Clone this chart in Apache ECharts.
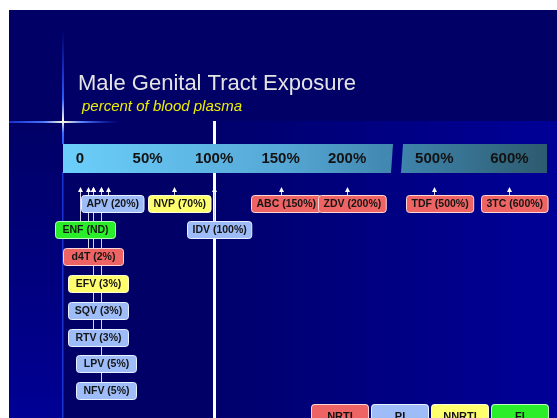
<!DOCTYPE html>
<html>
<head>
<meta charset="utf-8">
<title>Male Genital Tract Exposure</title>
<script src="https://cdn.jsdelivr.net/npm/echarts@6.0.0/dist/echarts.min.js"></script>
<style>
  html, body { margin: 0; padding: 0; background: #fff; }
  #chart { width: 557px; height: 418px; }
</style>
</head>
<body>
<div id="chart"></div>
<script>
// drug level in the male genital tract, as percent of blood plasma (null = not detected)
const drugs     = ['APV', 'NVP', 'ABC', 'ZDV', 'TDF', '3TC', 'ENF', 'IDV', 'd4T', 'EFV', 'SQV', 'RTV', 'LPV', 'NFV'];
const percent   = [20, 70, 150, 200, 500, 600, null, 100, 2, 3, 3, 3, 5, 5];
const drugClass = ['PI', 'NNRTI', 'NRTI', 'NRTI', 'NRTI', 'NRTI', 'FI', 'PI', 'NRTI', 'NNRTI', 'PI', 'PI', 'PI', 'PI'];
// which row of boxes each label hangs in
const level     = [0, 0, 0, 0, 0, 0, 1, 1, 2, 3, 4, 5, 6, 7];

const classes   = ['NRTI', 'PI', 'NNRTI', 'FI'];
const lowTicks  = [0, 50, 100, 150, 200];
const highTicks = [500, 600];
const plasmaLevel = 100;

const FONT = '"Liberation Sans", Arial, sans-serif';
const classStyle = {
  NRTI:  { fill: '#ee6464', border: '#ffd4d4' },
  PI:    { fill: '#9dbcf8', border: '#e8efff' },
  NNRTI: { fill: '#ffff6e', border: '#ffffd6' },
  FI:    { fill: '#2aee2a', border: '#bcffbc' }
};

// the slide stretches the 0-20% stretch of the scale so the small values can be told apart
const lowBreaks = [
  { start: 0, end: 5, gap: 15.8 },
  { start: 5, end: 20, gap: 5 }
];
const LOW_MIN = -12.8, LOW_MAX = 234.5, HIGH_MIN = 457, HIGH_MAX = 650;
const ROW_MIN = -3.06, ROW_MAX = 8.02, TIP_ROW = -0.6;

const measureCtx = document.createElement('canvas').getContext('2d');
function textWidth(s, font) {
  measureCtx.font = font;
  return measureCtx.measureText(s).width;
}

function pctLabel(v) {
  return v === 0 ? '0' : v + '%';
}

const items = drugs.map(function (d, i) {
  const v = percent[i];
  return {
    label: d + ' (' + (v === null ? 'ND' : v + '%') + ')',
    x: v === null ? 0 : v,
    level: level[i],
    cls: drugClass[i]
  };
});

function makeRender(list) {
  return function (params, api) {
    const it = list[params.dataIndex];
    const st = classStyle[it.cls];
    const tip = api.coord([api.value(0), TIP_ROW]);
    const c = api.coord([api.value(0), api.value(1)]);
    const w = Math.max(60, textWidth(it.label, 'bold 10.5px ' + FONT) + 10);
    const h = 17;
    const bx = Math.round(c[0] + 5 - w / 2) + 0.5;
    const by = Math.round(c[1] - h / 2) + 0.5;
    const lx = Math.round(tip[0]) + 0.5;
    return {
      type: 'group',
      children: [
        { type: 'line', z2: 1,
          shape: { x1: lx, y1: tip[1] + 4, x2: lx, y2: by },
          style: { stroke: '#d4d4e6', lineWidth: 1 } },
        { type: 'polygon', z2: 1,
          shape: { points: [[lx, tip[1]], [lx - 2.5, tip[1] + 5], [lx + 2.5, tip[1] + 5]] },
          style: { fill: '#ffffff' } },
        { type: 'rect', z2: 10,
          shape: { x: bx, y: by, width: w, height: h, r: 3 },
          style: { fill: st.fill, stroke: st.border, lineWidth: 1 } },
        { type: 'text', z2: 11, x: bx + w / 2, y: by + h / 2 + 0.5,
          style: { text: it.label, fill: '#151515', fontSize: 10.5, fontWeight: 'bold',
                   fontFamily: FONT, align: 'center', verticalAlign: 'middle' } }
      ]
    };
  };
}

const series = [];

// white reference line at 100% of plasma, under the boxes and the scale band
series.push({
  name: 'plasma',
  type: 'line',
  z: 1,
  xAxisIndex: 0,
  yAxisIndex: 0,
  data: [],
  markLine: {
    z: 1,
    silent: true,
    symbol: 'none',
    label: { show: false },
    lineStyle: { color: '#ffffff', width: 3, type: 'solid', opacity: 1 },
    data: [{ xAxis: plasmaLevel }]
  }
});

classes.forEach(function (cls) {
  [0, 1].forEach(function (g) {
    const list = items.filter(function (it) {
      return it.cls === cls && (g === 0 ? it.x <= LOW_MAX : it.x >= HIGH_MIN);
    });
    if (!list.length) return;
    series.push({
      name: cls,
      type: 'custom',
      z: 3,
      coordinateSystem: 'cartesian2d',
      xAxisIndex: g,
      yAxisIndex: g,
      renderItem: makeRender(list),
      encode: { x: 0, y: 1 },
      data: list.map(function (it) { return { name: it.label, value: [it.x, it.level] }; })
    });
  });
});

const axisLabelStyle = {
  inside: true,
  margin: 30,
  color: '#121212',
  fontSize: 15,
  fontWeight: 'bold',
  fontFamily: FONT,
  formatter: pctLabel
};

const barFill = {
  type: 'linear', x: 63, y: 0, x2: 547, y2: 0, global: true,
  colorStops: [
    { offset: 0, color: '#6ccffb' },
    { offset: 0.45, color: '#56a8d6' },
    { offset: 0.7, color: '#3f84ac' },
    { offset: 1, color: '#2d5b6e' }
  ]
};

const chart = echarts.init(document.getElementById('chart'));
chart.setOption({
  animation: false,
  backgroundColor: '#ffffff',
  title: [
    { text: 'Male Genital Tract Exposure', left: 78, top: 73, padding: 0,
      textStyle: { color: '#e4e4e4', fontSize: 22, fontWeight: 'normal', fontFamily: FONT,
                   textShadowColor: '#000022', textShadowOffsetX: 1, textShadowOffsetY: 1 } },
    { text: 'percent of blood plasma', left: 82, top: 99, padding: 0,
      textStyle: { color: '#eeee00', fontSize: 15, fontStyle: 'italic', fontWeight: 'normal', fontFamily: FONT } }
  ],
  legend: {
    left: 307,
    top: 404,
    padding: 0,
    itemGap: -2,
    itemWidth: 0,
    itemHeight: 0,
    selectedMode: false,
    data: classes.map(function (c) {
      const pad = (56 - textWidth(c, 'bold 11px ' + FONT)) / 2;
      return {
        name: c,
        icon: 'none',
        textStyle: {
          color: '#111111', fontSize: 11, fontWeight: 'bold', fontFamily: FONT, lineHeight: 12,
          backgroundColor: classStyle[c].fill, borderColor: classStyle[c].border,
          borderWidth: 1, borderRadius: 3, padding: [0, pad, 12, pad]
        }
      };
    })
  },
  grid: [
    { left: 63, width: 330, top: 121, bottom: 0 },
    { left: 402, width: 145, top: 121, bottom: 0 }
  ],
  xAxis: [
    { gridIndex: 0, type: 'value', position: 'top', min: LOW_MIN, max: LOW_MAX, z: 6,
      breaks: lowBreaks,
      breakArea: { show: false, itemStyle: { color: 'rgba(0,0,0,0)', borderWidth: 0, opacity: 0 } },
      axisLine: { show: false }, axisTick: { show: false }, splitLine: { show: false },
      axisLabel: Object.assign({ customValues: lowTicks }, axisLabelStyle) },
    { gridIndex: 1, type: 'value', position: 'top', min: HIGH_MIN, max: HIGH_MAX, z: 6,
      axisLine: { show: false }, axisTick: { show: false }, splitLine: { show: false },
      axisLabel: Object.assign({ customValues: highTicks }, axisLabelStyle) }
  ],
  yAxis: [
    { gridIndex: 0, type: 'value', inverse: true, min: ROW_MIN, max: ROW_MAX, show: false },
    { gridIndex: 1, type: 'value', inverse: true, min: ROW_MIN, max: ROW_MAX, show: false }
  ],
  graphic: [
    // slide background
    { type: 'rect', z: 0, shape: { x: 9, y: 10, width: 548, height: 408 }, style: { fill: '#000066' } },
    { type: 'rect', z: 0, shape: { x: 212, y: 121, width: 345, height: 297 },
      style: { fill: { type: 'linear', x: 0, y: 0, x2: 1, y2: 0,
        colorStops: [{ offset: 0, color: '#00006c' }, { offset: 1, color: '#000098' }] } } },
    { type: 'rect', z: 0, shape: { x: 9, y: 122, width: 53, height: 296 },
      style: { fill: { type: 'linear', x: 0, y: 0, x2: 0, y2: 1,
        colorStops: [{ offset: 0, color: '#000066' }, { offset: 1, color: '#000094' }] } } },
    // light flare
    { type: 'rect', z: 1, shape: { x: 9, y: 121, width: 110, height: 2 },
      style: { fill: { type: 'linear', x: 0, y: 0, x2: 1, y2: 0,
        colorStops: [{ offset: 0, color: 'rgba(40,80,255,0.6)' }, { offset: 0.32, color: '#4a78ff' },
                     { offset: 0.49, color: '#ffffd8' }, { offset: 0.66, color: '#5a84ff' },
                     { offset: 1, color: 'rgba(30,60,255,0)' }] } } },
    { type: 'rect', z: 1, shape: { x: 62, y: 30, width: 2, height: 114 },
      style: { fill: { type: 'linear', x: 0, y: 0, x2: 0, y2: 1,
        colorStops: [{ offset: 0, color: 'rgba(30,60,255,0)' }, { offset: 0.6, color: '#2f5cff' },
                     { offset: 0.8, color: '#ffffe8' }, { offset: 0.9, color: '#3c6cff' },
                     { offset: 1, color: '#2a58ff' }] } } },
    { type: 'rect', z: 1, shape: { x: 62, y: 172, width: 1.5, height: 246 }, style: { fill: '#1834d0' } },
    // the scale band, broken between 200% and 500%
    { type: 'polygon', z: 5, shape: { points: [[63, 144], [393, 144], [391, 173], [63, 173]] },
      style: { fill: barFill } },
    { type: 'polygon', z: 5, shape: { points: [[403, 144], [547, 144], [547, 173], [401, 173]] },
      style: { fill: barFill } }
  ],
  series: series
});
</script>
</body>
</html>
